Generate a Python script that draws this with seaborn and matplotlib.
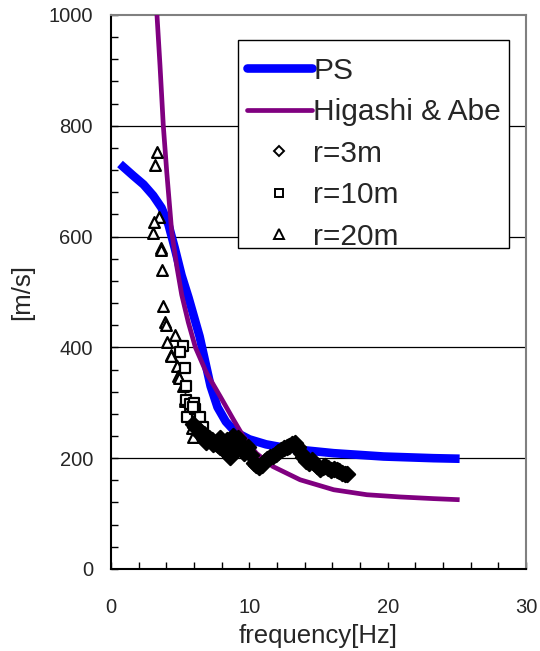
import numpy as np
import pandas as pd
import matplotlib
matplotlib.use("Agg")
import matplotlib.pyplot as plt
from matplotlib.lines import Line2D
from matplotlib.patches import Rectangle
import seaborn as sns

# Phase velocity dispersion curves
ps_freq = [0.65, 1.6, 2.35, 3.05, 3.65, 4.15, 4.6, 5.1, 5.6, 6.0, 6.4, 6.8, 7.2,
           7.7, 8.3, 9.0, 10.0, 11.2, 12.5, 13.7, 16.1, 19.7, 23.3, 25.2]
ps_vel = [731, 710, 694, 674, 652, 622, 580, 530, 490, 455, 420, 375, 330,
          292, 266, 247, 234, 225, 219, 215, 209, 203, 200, 199]

ha_freq = [3.25, 3.3, 3.54, 3.78, 4.03, 4.39, 4.75, 5.11, 5.59, 6.1, 6.9, 7.88,
           8.84, 9.57, 10.5, 11.7, 13.67, 16.1, 18.5, 20.9, 23.3, 25.2]
ha_vel = [1040, 1009, 909, 800, 716, 608, 547, 495, 445, 400, 354, 312,
          270, 239, 209, 185, 161, 143, 134, 130, 127, 125]

# Observed phase velocities, array radius 3 m
r3_freq = [5.9, 6.1, 6.3, 6.5, 6.7, 6.9, 7.1, 7.3, 7.5, 7.7, 7.9, 8.1, 8.3, 8.5,
           8.7, 8.9, 9.1, 9.3, 9.5, 9.7, 9.9, 10.1, 10.3, 10.5, 10.7, 10.9, 11.1,
           11.3, 11.5, 11.7, 11.9, 12.1, 12.3, 12.5, 12.7, 12.9, 13.1, 13.3, 13.5,
           13.7, 13.9, 14.1, 14.3, 14.5, 14.7, 14.9, 15.1, 15.3, 15.5, 15.7, 15.9,
           16.1, 16.3, 16.5, 16.7, 16.9, 17.05,
           6.4, 6.9, 7.4, 7.9, 8.4, 8.8, 9.2, 9.6, 8.6]
r3_vel = [262, 256, 252, 248, 244, 240, 236, 232, 228, 224, 220, 216, 222, 205,
          226, 212, 230, 218, 224, 214, 220, 206, 192, 188, 184, 188, 194, 198,
          202, 204, 208, 212, 214, 218, 220, 222, 226, 228, 220, 210, 202, 194,
          192, 196, 192, 186, 180, 184, 186, 182, 178, 180, 178, 176, 174, 172, 171,
          244, 230, 226, 236, 232, 240, 236, 210, 203]

# Observed phase velocities, array radius 10 m
r10_freq = [5.2, 5.0, 5.35, 5.45, 5.4, 5.7, 5.5, 6.1, 6.45, 6.65, 6.0, 5.9]
r10_vel = [403, 392, 362, 330, 305, 297, 275, 288, 275, 257, 300, 292]

# Observed phase velocities, array radius 20 m
r20_freq = [3.35, 3.2, 3.5, 3.1, 3.0, 3.6, 3.62, 3.7, 3.75, 3.9, 3.95, 4.6, 4.05,
            4.3, 4.32, 4.75, 4.85, 4.9, 5.2, 5.35, 5.37, 5.85, 5.95, 5.5]
r20_vel = [753, 729, 635, 626, 607, 579, 576, 540, 474, 445, 441, 423, 409,
           387, 384, 366, 348, 345, 330, 306, 303, 255, 239, 285]

x_ticks = [0, 10, 20, 30]
y_ticks = [0, 200, 400, 600, 800, 1000]

sns.set_theme(style="white")
plt.rcParams["font.family"] = ["Liberation Sans", "DejaVu Sans"]

fig = plt.figure(figsize=(5.4, 6.51), dpi=100)
ax = fig.add_axes([0.2056, 0.126, 0.7685, 0.851])

for yv in y_ticks[1:-1]:
    ax.axhline(yv, color="black", lw=0.9, zorder=1)

line_kw = dict(sort=False, estimator=None, solid_joinstyle="round",
               solid_capstyle="butt")
sns.lineplot(x=ps_freq, y=ps_vel, ax=ax, color="#0000FF", lw=6.2, zorder=3,
             **line_kw)
sns.lineplot(x=ha_freq, y=ha_vel, ax=ax, color="#800080", lw=3.4, zorder=4,
             **line_kw)

marker_kw = dict(facecolor="white", edgecolor="black", linewidth=1.6, zorder=5)
sns.scatterplot(x=r20_freq, y=r20_vel, ax=ax, marker="^", s=60, **marker_kw)
sns.scatterplot(x=r10_freq, y=r10_vel, ax=ax, marker="s", s=50, **marker_kw)
sns.scatterplot(x=r3_freq, y=r3_vel, ax=ax, marker="D", s=60,
                facecolor="black", edgecolor="black", linewidth=1.6, zorder=6)

ax.set_xlim(0, 30)
ax.set_ylim(0, 1000)
ax.set_xticks(x_ticks)
ax.set_yticks(y_ticks)
ax.set_xticks(np.arange(0, 31, 2), minor=True)
ax.set_yticks(np.arange(0, 1001, 40), minor=True)
ax.tick_params(axis="both", which="both", direction="in", labelsize=14.5,
               color="black", width=1.0, left=True, bottom=True, length=5)
ax.tick_params(axis="x", which="major", pad=21)
ax.tick_params(axis="y", which="major", pad=13)

for side in ["left", "bottom"]:
    ax.spines[side].set_color("black")
    ax.spines[side].set_linewidth(1.5)
for side in ["top", "right"]:
    ax.spines[side].set_color("#808080")
    ax.spines[side].set_linewidth(1.5)

ax.set_xlabel("frequency[Hz]", fontsize=18.5, labelpad=5)
ax.set_ylabel("[m/s]", fontsize=18.5, labelpad=10)

# Legend box: white panel with a thin black border; entries clipped to it
box = Rectangle((0.306, 0.5794), 0.653, 0.3755, transform=ax.transAxes,
                facecolor="white", edgecolor="black", lw=1.0, zorder=9)
ax.add_patch(box)

handles = [
    Line2D([], [], color="#0000FF", lw=6.2),
    Line2D([], [], color="#800080", lw=3.4),
    Line2D([], [], ls="none", marker="D", ms=5, mfc="white", mec="black", mew=1.4),
    Line2D([], [], ls="none", marker="s", ms=6, mfc="white", mec="black", mew=1.4),
    Line2D([], [], ls="none", marker="^", ms=6.5, mfc="white", mec="black", mew=1.4),
]
labels = ["PS", "Higashi & Abe", "r=3m", "r=10m", "r=20m"]
leg = ax.legend(handles, labels, loc="upper left", bbox_to_anchor=(0.306, 0.9404),
                fontsize=21.5, frameon=False, handlelength=2.17,
                handletextpad=0.05, labelspacing=0.45, borderpad=0.3,
                borderaxespad=0)
leg.set_zorder(10)
for t in leg.get_texts():
    t.set_clip_on(True)
    t.set_clip_path(box)

fig.savefig("out.png", dpi=100)
